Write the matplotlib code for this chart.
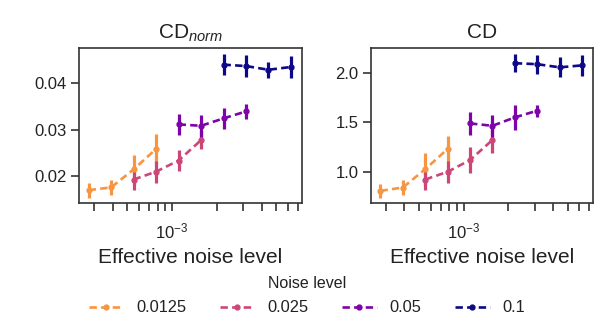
import numpy as np
import matplotlib
matplotlib.use("Agg")
import matplotlib.pyplot as plt
from matplotlib.lines import Line2D
from matplotlib.ticker import LogLocator, NullFormatter

plt.rcParams['font.family'] = ['Liberation Sans', 'DejaVu Sans']
plt.rcParams['mathtext.fontset'] = 'custom'
plt.rcParams['mathtext.rm'] = 'Liberation Sans'
plt.rcParams['mathtext.it'] = 'Liberation Sans:italic'

noise_levels = [0.0125, 0.025, 0.05, 0.1]
noise_labels = ["0.0125", "0.025", "0.05", "0.1"]
n_samples = [2048, 1024, 512, 256]

cdnorm_mean = [
    [0.0169, 0.0175, 0.0214, 0.0258],
    [0.0192, 0.0209, 0.0233, 0.0277],
    [0.0311, 0.0308, 0.0324, 0.0339],
    [0.0440, 0.0437, 0.0429, 0.0435],
]
cdnorm_err = [
    [0.0016, 0.0016, 0.0032, 0.0032],
    [0.0023, 0.0024, 0.0023, 0.0020],
    [0.0023, 0.0024, 0.0023, 0.0017],
    [0.0023, 0.0023, 0.0017, 0.0023],
]
cd_mean = [
    [0.807, 0.841, 1.027, 1.231],
    [0.922, 1.000, 1.119, 1.322],
    [1.490, 1.466, 1.551, 1.619],
    [2.100, 2.090, 2.058, 2.078],
]
cd_err = [
    [0.068, 0.073, 0.160, 0.134],
    [0.110, 0.114, 0.130, 0.127],
    [0.114, 0.114, 0.124, 0.060],
    [0.093, 0.095, 0.100, 0.110],
]

cmap = plt.get_cmap('plasma')
colors = [cmap(0.75), cmap(0.5), cmap(0.25), cmap(0.0)]
dash = (0, (2.8, 1.6))
LW = 1.9

fig = plt.figure(figsize=(6.14, 3.31), dpi=100)
ax1 = fig.add_axes([0.1287, 0.387, 0.363, 0.468])
ax2 = fig.add_axes([0.604, 0.387, 0.3616, 0.468])

for ax, means, errs, title, ylim, yticks, ylabels in [
    (ax1, cdnorm_mean, cdnorm_err, r'CD$_{\mathit{norm}}$', (0.01415, 0.0476), [0.02, 0.03, 0.04], ["0.02", "0.03", "0.04"]),
    (ax2, cd_mean, cd_err, 'CD', (0.685, 2.254), [1.0, 1.5, 2.0], ["1.0", "1.5", "2.0"]),
]:
    for i, nl in enumerate(noise_levels):
        x = [nl / np.sqrt(n) for n in n_samples]
        ax.errorbar(x, means[i], yerr=errs[i], fmt='o', linestyle=dash,
                    color=colors[i], lw=LW, ms=3.5, elinewidth=2.3, capsize=0)
    ax.set_xscale('log')
    ax.set_xlim(2.38e-4, 7.4e-3)
    ax.set_ylim(*ylim)
    ax.set_yticks(yticks)
    ax.set_yticklabels(ylabels)
    ax.xaxis.set_major_locator(LogLocator(base=10, numticks=10))
    ax.xaxis.set_minor_locator(LogLocator(base=10, subs=np.arange(2, 10), numticks=20))
    ax.xaxis.set_minor_formatter(NullFormatter())
    ax.tick_params(axis='both', which='major', direction='out', length=5.5, width=1.2,
                   labelsize=12, color='#333333', labelcolor='#222222')
    ax.tick_params(axis='y', which='major', pad=3.5)
    ax.tick_params(axis='x', which='major', pad=8)
    ax.tick_params(axis='x', which='minor', direction='out', length=5.5, width=1.2, color='#333333')
    for s in ax.spines.values():
        s.set_linewidth(1.2)
        s.set_color('#333333')
    ax.set_title(title, fontsize=15, color='#222222', pad=7)
    ax.set_xlabel('Effective noise level', fontsize=15, color='#222222', labelpad=5)

handles = [Line2D([], [], color=c, lw=LW, linestyle=dash, marker='o', ms=3.5) for c in colors]
leg = fig.legend(handles=handles, labels=noise_labels, loc='lower center',
                 bbox_to_anchor=(0.5, 0.0), ncol=4, frameon=False, fontsize=11.8,
                 title='Noise level', title_fontsize=11.5, handlelength=2.1,
                 columnspacing=2.05, handletextpad=0.8, borderaxespad=0.55,
                 labelspacing=0.55)
for t in leg.get_texts():
    t.set_color('#222222')
leg.get_title().set_color('#222222')

fig.savefig('out.png', dpi=100)
